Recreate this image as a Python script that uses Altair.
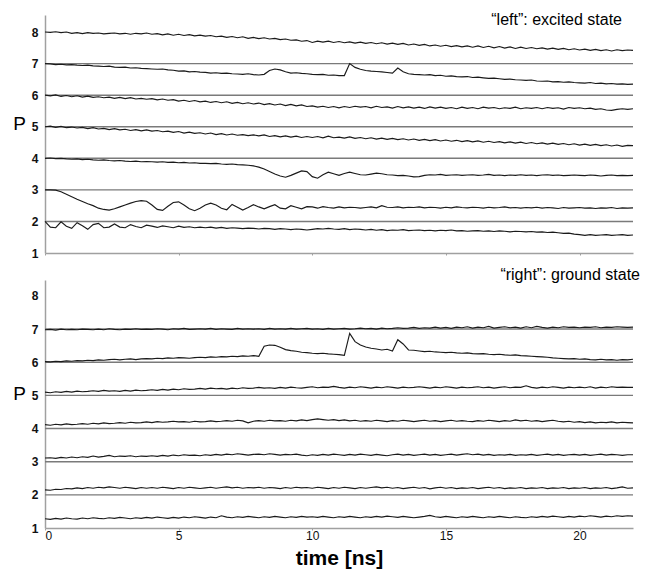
import altair as alt
import pandas as pd

# ---------------- data ----------------
TIME = [round(0.2 * i, 1) for i in range(111)]   # sampling grid 0 .. 22 ns
X_TICKS = [0, 5, 10, 15, 20]
Y_TICKS = [1, 2, 3, 4, 5, 6, 7, 8]
REF_LEVELS = [2, 3, 4, 5, 6, 7]
TOP_TITLE = "\u201cleft\u201d: excited state"
BOTTOM_TITLE = "\u201cright\u201d: ground state"
X_TITLE = "time [ns]"
Y_TITLE = "P"

# upper panel ("left": excited state)
TOP_8 = [8.00, 7.99, 8.01, 7.98, 8.00, 7.96, 7.98, 7.95, 7.98, 7.96,
         7.97, 7.94, 7.96, 7.97, 7.94, 7.96, 7.93, 7.96, 7.94, 7.97,
         7.93, 7.95, 7.91, 7.94, 7.90, 7.93, 7.89, 7.92, 7.88, 7.90,
         7.87, 7.89, 7.85, 7.87, 7.83, 7.86, 7.82, 7.85, 7.80, 7.83,
         7.79, 7.82, 7.78, 7.80, 7.76, 7.78, 7.74, 7.75, 7.71, 7.73,
         7.67, 7.71, 7.68, 7.71, 7.67, 7.70, 7.66, 7.69, 7.65, 7.68,
         7.64, 7.67, 7.63, 7.66, 7.62, 7.65, 7.61, 7.64, 7.59, 7.62,
         7.58, 7.61, 7.56, 7.59, 7.55, 7.58, 7.54, 7.57, 7.53, 7.56,
         7.52, 7.56, 7.51, 7.55, 7.50, 7.54, 7.49, 7.53, 7.48, 7.52,
         7.48, 7.51, 7.47, 7.50, 7.46, 7.49, 7.45, 7.48, 7.44, 7.47,
         7.43, 7.46, 7.42, 7.45, 7.41, 7.44, 7.40, 7.44, 7.41, 7.43,
         7.42]
TOP_7 = [7.00, 6.99, 6.97, 6.98, 6.96, 6.97, 6.95, 6.94, 6.95, 6.93,
         6.92, 6.91, 6.92, 6.89, 6.88, 6.89, 6.86, 6.87, 6.85, 6.84,
         6.83, 6.82, 6.83, 6.80, 6.79, 6.76, 6.77, 6.74, 6.75, 6.73,
         6.72, 6.70, 6.71, 6.69, 6.70, 6.68, 6.67, 6.66, 6.68, 6.65,
         6.64, 6.66, 6.78, 6.83, 6.80, 6.74, 6.70, 6.71, 6.69, 6.68,
         6.66, 6.65, 6.66, 6.63, 6.64, 6.62, 6.62, 7.00, 6.88, 6.82,
         6.78, 6.76, 6.75, 6.74, 6.72, 6.70, 6.86, 6.74, 6.68, 6.66,
         6.65, 6.64, 6.65, 6.62, 6.63, 6.60, 6.61, 6.59, 6.58, 6.59,
         6.56, 6.57, 6.55, 6.53, 6.54, 6.52, 6.50, 6.51, 6.49, 6.48,
         6.47, 6.48, 6.45, 6.44, 6.45, 6.42, 6.43, 6.41, 6.42, 6.40,
         6.39, 6.38, 6.40, 6.37, 6.38, 6.36, 6.37, 6.35, 6.36, 6.34,
         6.35]
TOP_6 = [6.00, 5.98, 6.01, 5.96, 5.99, 5.95, 5.98, 5.94, 5.97, 5.93,
         5.95, 5.92, 5.94, 5.90, 5.93, 5.89, 5.92, 5.88, 5.90, 5.87,
         5.89, 5.85, 5.88, 5.84, 5.86, 5.81, 5.84, 5.80, 5.83, 5.79,
         5.81, 5.77, 5.80, 5.76, 5.79, 5.74, 5.77, 5.73, 5.76, 5.72,
         5.75, 5.70, 5.73, 5.69, 5.72, 5.67, 5.71, 5.66, 5.69, 5.64,
         5.66, 5.62, 5.65, 5.61, 5.64, 5.60, 5.64, 5.61, 5.65, 5.62,
         5.64, 5.60, 5.65, 5.61, 5.63, 5.59, 5.64, 5.60, 5.63, 5.59,
         5.62, 5.58, 5.63, 5.59, 5.62, 5.58, 5.61, 5.57, 5.62, 5.58,
         5.61, 5.57, 5.62, 5.59, 5.61, 5.57, 5.60, 5.58, 5.62, 5.57,
         5.60, 5.58, 5.61, 5.57, 5.61, 5.58, 5.60, 5.56, 5.61, 5.58,
         5.60, 5.57, 5.59, 5.55, 5.57, 5.53, 5.52, 5.55, 5.57, 5.55,
         5.57]
TOP_5 = [5.00, 5.02, 4.98, 5.01, 4.97, 4.99, 4.96, 4.98, 4.94, 4.97,
         4.93, 4.95, 4.91, 4.94, 4.90, 4.92, 4.88, 4.91, 4.87, 4.90,
         4.86, 4.88, 4.84, 4.86, 4.82, 4.85, 4.80, 4.83, 4.79, 4.81,
         4.77, 4.80, 4.75, 4.78, 4.74, 4.77, 4.73, 4.75, 4.72, 4.74,
         4.71, 4.74, 4.69, 4.72, 4.68, 4.71, 4.67, 4.70, 4.66, 4.69,
         4.66, 4.69, 4.65, 4.70, 4.65, 4.67, 4.64, 4.68, 4.63, 4.66,
         4.62, 4.65, 4.61, 4.64, 4.60, 4.63, 4.59, 4.62, 4.58, 4.61,
         4.57, 4.60, 4.56, 4.59, 4.55, 4.58, 4.54, 4.57, 4.53, 4.56,
         4.52, 4.55, 4.51, 4.54, 4.50, 4.53, 4.49, 4.52, 4.48, 4.51,
         4.47, 4.50, 4.46, 4.49, 4.45, 4.48, 4.44, 4.47, 4.43, 4.46,
         4.42, 4.45, 4.41, 4.44, 4.40, 4.43, 4.39, 4.42, 4.38, 4.41,
         4.40]
TOP_4 = [4.00, 4.01, 3.99, 4.00, 3.98, 3.97, 3.98, 3.96, 3.97, 3.95,
         3.94, 3.95, 3.93, 3.92, 3.93, 3.91, 3.90, 3.91, 3.89, 3.90,
         3.89, 3.88, 3.89, 3.87, 3.88, 3.86, 3.87, 3.85, 3.86, 3.84,
         3.84, 3.83, 3.84, 3.82, 3.81, 3.82, 3.80, 3.79, 3.78, 3.76,
         3.72, 3.66, 3.58, 3.50, 3.44, 3.40, 3.46, 3.53, 3.60, 3.58,
         3.42, 3.37, 3.48, 3.56, 3.51, 3.46, 3.52, 3.56, 3.52, 3.48,
         3.47, 3.50, 3.53, 3.51, 3.48, 3.47, 3.45, 3.46, 3.44, 3.41,
         3.42, 3.46, 3.48, 3.47, 3.49, 3.46, 3.47, 3.48, 3.46, 3.47,
         3.48, 3.46, 3.47, 3.49, 3.46, 3.47, 3.45, 3.47, 3.46, 3.48,
         3.46, 3.47, 3.45, 3.47, 3.48, 3.46, 3.47, 3.45, 3.46, 3.47,
         3.46, 3.45, 3.47, 3.46, 3.44, 3.46, 3.47, 3.45, 3.46, 3.45,
         3.46]
TOP_3 = [3.00, 3.00, 2.99, 2.94, 2.86, 2.78, 2.70, 2.63, 2.56, 2.50,
         2.42, 2.38, 2.36, 2.40, 2.46, 2.52, 2.58, 2.63, 2.66, 2.64,
         2.52, 2.38, 2.35, 2.48, 2.60, 2.62, 2.52, 2.40, 2.34, 2.42,
         2.52, 2.58, 2.52, 2.42, 2.37, 2.54, 2.45, 2.36, 2.44, 2.53,
         2.46, 2.40, 2.47, 2.53, 2.42, 2.40, 2.50, 2.45, 2.40, 2.47,
         2.46, 2.42, 2.47, 2.44, 2.42, 2.46, 2.43, 2.45, 2.44, 2.42,
         2.44, 2.46, 2.43, 2.50, 2.45, 2.44, 2.46, 2.43, 2.45, 2.44,
         2.46, 2.43, 2.45, 2.44, 2.42, 2.45, 2.43, 2.46, 2.44, 2.43,
         2.45, 2.44, 2.42, 2.45, 2.43, 2.44, 2.46, 2.43, 2.44, 2.42,
         2.44, 2.43, 2.45, 2.42, 2.44, 2.43, 2.41, 2.44, 2.42, 2.43,
         2.44, 2.42, 2.43, 2.41, 2.43, 2.42, 2.44, 2.41, 2.43, 2.42,
         2.43]
TOP_2 = [2.00, 1.82, 1.80, 1.99, 1.85, 1.78, 1.96, 1.86, 1.75, 1.90,
         1.94, 1.80, 1.82, 1.92, 1.82, 1.80, 1.90, 1.84, 1.80, 1.88,
         1.85, 1.81, 1.86, 1.83, 1.80, 1.85, 1.81, 1.83, 1.80, 1.82,
         1.80, 1.82, 1.79, 1.81, 1.78, 1.80, 1.79, 1.77, 1.79, 1.78,
         1.76, 1.78, 1.77, 1.75, 1.77, 1.76, 1.74, 1.76, 1.75, 1.73,
         1.75, 1.77, 1.76, 1.78, 1.76, 1.75, 1.77, 1.74, 1.76, 1.75,
         1.73, 1.75, 1.72, 1.74, 1.71, 1.73, 1.72, 1.74, 1.71, 1.72,
         1.73, 1.71, 1.72, 1.70, 1.72, 1.71, 1.73, 1.70, 1.71, 1.69,
         1.70, 1.71, 1.69, 1.70, 1.68, 1.70, 1.69, 1.67, 1.69, 1.68,
         1.67, 1.68, 1.66, 1.67, 1.65, 1.66, 1.64, 1.62, 1.63, 1.60,
         1.58, 1.56, 1.58, 1.56, 1.57, 1.58, 1.56, 1.57, 1.58, 1.56,
         1.57]

# lower panel ("right": ground state)
BOT_7 = [6.98, 6.99, 6.97, 7.00, 6.98, 6.99, 6.98, 7.00, 6.99, 6.98,
         7.00, 6.98, 7.01, 6.99, 6.98, 7.00, 6.99, 7.01, 6.99, 7.00,
         6.99, 7.01, 7.00, 6.98, 7.01, 7.00, 7.02, 6.99, 7.00, 7.01,
         7.00, 7.02, 6.99, 7.01, 7.00, 6.99, 7.02, 7.00, 7.01, 7.00,
         7.01, 6.99, 7.02, 7.00, 7.01, 7.00, 7.02, 7.00, 7.01, 7.02,
         7.00, 7.01, 6.99, 7.02, 7.00, 7.01, 7.02, 7.00, 7.01, 7.03,
         7.01, 7.02, 7.00, 7.03, 7.01, 7.02, 7.04, 7.02, 7.03, 7.05,
         7.02, 7.04, 7.03, 7.06, 7.03, 7.05, 7.02, 7.06, 7.04, 7.07,
         7.03, 7.06, 7.04, 7.08, 7.03, 7.05, 7.07, 7.04, 7.06, 7.03,
         7.07, 7.04, 7.08, 7.05, 7.03, 7.06, 7.04, 7.07, 7.05, 7.06,
         7.04, 7.06, 7.05, 7.07, 7.04, 7.06, 7.05, 7.07, 7.06, 7.05,
         7.06]
BOT_6 = [6.02, 6.01, 6.03, 6.02, 6.04, 6.03, 6.05, 6.04, 6.06, 6.05,
         6.07, 6.06, 6.08, 6.09, 6.07, 6.09, 6.10, 6.08, 6.10, 6.11,
         6.10, 6.12, 6.11, 6.13, 6.12, 6.14, 6.13, 6.12, 6.14, 6.15,
         6.14, 6.16, 6.15, 6.17, 6.16, 6.18, 6.17, 6.19, 6.18, 6.20,
         6.18, 6.48, 6.52, 6.51, 6.45, 6.38, 6.35, 6.33, 6.30, 6.29,
         6.27, 6.26, 6.27, 6.25, 6.24, 6.23, 6.21, 6.87, 6.62, 6.52,
         6.46, 6.42, 6.40, 6.37, 6.39, 6.34, 6.68, 6.55, 6.37, 6.36,
         6.34, 6.32, 6.33, 6.31, 6.30, 6.29, 6.30, 6.28, 6.27, 6.28,
         6.26, 6.25, 6.26, 6.24, 6.23, 6.24, 6.22, 6.21, 6.22, 6.20,
         6.19, 6.18, 6.17, 6.16, 6.15, 6.13, 6.12, 6.11, 6.10, 6.11,
         6.09, 6.10, 6.08, 6.07, 6.09, 6.07, 6.08, 6.06, 6.08, 6.07,
         6.09]
BOT_5 = [5.10, 5.08, 5.11, 5.09, 5.12, 5.10, 5.13, 5.11, 5.12, 5.14,
         5.12, 5.15, 5.13, 5.14, 5.12, 5.15, 5.13, 5.16, 5.14, 5.15,
         5.17, 5.15, 5.18, 5.16, 5.19, 5.17, 5.20, 5.18, 5.19, 5.21,
         5.19, 5.22, 5.20, 5.21, 5.19, 5.22, 5.20, 5.23, 5.21, 5.22,
         5.24, 5.22, 5.23, 5.21, 5.24, 5.22, 5.25, 5.23, 5.22, 5.24,
         5.26, 5.23, 5.25, 5.24, 5.27, 5.24, 5.22, 5.25, 5.23, 5.26,
         5.24, 5.22, 5.25, 5.23, 5.26, 5.24, 5.22, 5.25, 5.23, 5.24,
         5.26, 5.24, 5.22, 5.25, 5.23, 5.26, 5.24, 5.22, 5.25, 5.23,
         5.24, 5.26, 5.23, 5.25, 5.22, 5.24, 5.26, 5.23, 5.25, 5.24,
         5.29, 5.24, 5.22, 5.25, 5.23, 5.26, 5.24, 5.22, 5.25, 5.23,
         5.25, 5.23, 5.26, 5.22, 5.25, 5.23, 5.26, 5.24, 5.25, 5.24,
         5.24]
BOT_4 = [4.12, 4.10, 4.13, 4.11, 4.14, 4.12, 4.13, 4.15, 4.13, 4.16,
         4.14, 4.17, 4.15, 4.16, 4.18, 4.16, 4.19, 4.17, 4.18, 4.20,
         4.18, 4.21, 4.19, 4.20, 4.22, 4.20, 4.21, 4.19, 4.22, 4.20,
         4.21, 4.23, 4.21, 4.22, 4.24, 4.22, 4.25, 4.23, 4.17, 4.22,
         4.24, 4.22, 4.25, 4.23, 4.24, 4.22, 4.25, 4.23, 4.26, 4.24,
         4.27, 4.29, 4.27, 4.25, 4.27, 4.24, 4.26, 4.23, 4.25, 4.22,
         4.24, 4.22, 4.25, 4.23, 4.21, 4.24, 4.22, 4.25, 4.23, 4.21,
         4.23, 4.25, 4.22, 4.24, 4.21, 4.23, 4.25, 4.22, 4.24, 4.22,
         4.21, 4.24, 4.22, 4.25, 4.23, 4.21, 4.24, 4.22, 4.26, 4.23,
         4.25, 4.22, 4.24, 4.21, 4.23, 4.25, 4.22, 4.20, 4.22, 4.19,
         4.21, 4.18, 4.20, 4.17, 4.19, 4.18, 4.20, 4.17, 4.19, 4.18,
         4.17]
BOT_3 = [3.11, 3.12, 3.10, 3.13, 3.11, 3.14, 3.12, 3.15, 3.13, 3.17,
         3.14, 3.16, 3.19, 3.15, 3.17, 3.16, 3.18, 3.15, 3.17, 3.16,
         3.18, 3.16, 3.19, 3.17, 3.20, 3.18, 3.21, 3.19, 3.20, 3.18,
         3.21, 3.19, 3.22, 3.20, 3.23, 3.21, 3.24, 3.22, 3.20, 3.22,
         3.23, 3.21, 3.24, 3.22, 3.20, 3.22, 3.21, 3.23, 3.20, 3.18,
         3.21, 3.19, 3.22, 3.20, 3.23, 3.21, 3.19, 3.22, 3.20, 3.23,
         3.21, 3.19, 3.22, 3.20, 3.18, 3.21, 3.23, 3.20, 3.22, 3.19,
         3.21, 3.23, 3.20, 3.22, 3.19, 3.21, 3.23, 3.20, 3.22, 3.24,
         3.21, 3.23, 3.20, 3.22, 3.19, 3.21, 3.20, 3.22, 3.19, 3.21,
         3.20, 3.22, 3.19, 3.21, 3.23, 3.20, 3.22, 3.19, 3.21, 3.22,
         3.20, 3.22, 3.19, 3.21, 3.23, 3.20, 3.22, 3.21, 3.19, 3.21,
         3.21]
BOT_2 = [2.15, 2.14, 2.17, 2.16, 2.19, 2.18, 2.21, 2.19, 2.22, 2.20,
         2.23, 2.21, 2.24, 2.22, 2.20, 2.23, 2.21, 2.19, 2.22, 2.20,
         2.22, 2.20, 2.23, 2.21, 2.19, 2.22, 2.20, 2.23, 2.21, 2.19,
         2.21, 2.23, 2.20, 2.22, 2.24, 2.21, 2.23, 2.20, 2.22, 2.21,
         2.23, 2.20, 2.22, 2.21, 2.19, 2.22, 2.20, 2.23, 2.21, 2.22,
         2.20, 2.23, 2.21, 2.19, 2.22, 2.20, 2.23, 2.21, 2.19, 2.22,
         2.20, 2.22, 2.24, 2.21, 2.23, 2.20, 2.22, 2.19, 2.21, 2.23,
         2.20, 2.22, 2.18, 2.21, 2.23, 2.20, 2.22, 2.19, 2.21, 2.20,
         2.22, 2.19, 2.21, 2.23, 2.20, 2.22, 2.19, 2.21, 2.20, 2.22,
         2.19, 2.21, 2.20, 2.22, 2.19, 2.21, 2.20, 2.22, 2.19, 2.21,
         2.20, 2.22, 2.19, 2.21, 2.20, 2.22, 2.19, 2.21, 2.24, 2.20,
         2.21]
BOT_1 = [1.28, 1.26, 1.29, 1.27, 1.30, 1.28, 1.27, 1.30, 1.28, 1.31,
         1.29, 1.28, 1.31, 1.29, 1.32, 1.30, 1.28, 1.31, 1.29, 1.32,
         1.30, 1.33, 1.31, 1.29, 1.32, 1.30, 1.33, 1.31, 1.34, 1.32,
         1.30, 1.33, 1.31, 1.37, 1.33, 1.31, 1.34, 1.32, 1.35, 1.33,
         1.31, 1.34, 1.32, 1.35, 1.33, 1.31, 1.34, 1.32, 1.35, 1.33,
         1.34, 1.32, 1.35, 1.33, 1.31, 1.34, 1.32, 1.35, 1.33, 1.31,
         1.34, 1.32, 1.35, 1.33, 1.36, 1.34, 1.32, 1.35, 1.33, 1.31,
         1.33, 1.35, 1.38, 1.34, 1.32, 1.35, 1.33, 1.31, 1.34, 1.32,
         1.35, 1.33, 1.31, 1.34, 1.32, 1.35, 1.33, 1.31, 1.34, 1.32,
         1.31, 1.34, 1.32, 1.35, 1.33, 1.36, 1.34, 1.32, 1.35, 1.33,
         1.36, 1.34, 1.37, 1.35, 1.33, 1.36, 1.34, 1.37, 1.35, 1.37,
         1.36]

TOP_SERIES = {"s8": TOP_8, "s7": TOP_7, "s6": TOP_6, "s5": TOP_5,
              "s4": TOP_4, "s3": TOP_3, "s2": TOP_2}
BOT_SERIES = {"s7": BOT_7, "s6": BOT_6, "s5": BOT_5, "s4": BOT_4,
              "s3": BOT_3, "s2": BOT_2, "s1": BOT_1}


def long_frame(series):
    rows = []
    for name, vals in series.items():
        assert len(vals) == len(TIME), (name, len(vals))
        for t, p in zip(TIME, vals):
            rows.append({"t": t, "p": p, "series": name})
    return pd.DataFrame(rows)


top_df = long_frame(TOP_SERIES)
bot_df = long_frame(BOT_SERIES)
ref_df = pd.DataFrame({"p": REF_LEVELS})

FONT = "Liberation Sans"
AXIS_GRAY = "#a0a0a0"
REF_GRAY = "#7a7a7a"
TRACE = "#1a1a1a"
PLOT_W = 588


def panel(df, ymax, height, title_text, title_dx, title_dy, p_y, bottom):
    x_axis = alt.Axis(
        values=X_TICKS, grid=False, domainColor=AXIS_GRAY, domainWidth=1.5,
        tickColor=AXIS_GRAY, tickSize=2, labels=bottom, labelFont=FONT,
        labelFontSize=12, labelColor="#111111", labelPadding=0,
        title=X_TITLE if bottom else None,
        titleFont=FONT, titleFontSize=21, titleFontWeight="bold",
        titleColor="#000000", titleY=30, titleBaseline="middle",
    )
    y_axis = alt.Axis(
        values=Y_TICKS, grid=False, domainColor=AXIS_GRAY, domainWidth=1.5,
        ticks=False, labelPadding=7, labelFont=FONT, labelFontSize=12,
        labelFontWeight="bold", labelColor="#111111",
        title=Y_TITLE, titleAngle=0, titleFont=FONT, titleFontSize=19,
        titleFontWeight="normal", titleColor="#000000", titleX=-26,
        titleY=p_y, titleAlign="center", titleBaseline="middle",
    )
    x = alt.X("t:Q", scale=alt.Scale(domain=[0, 22], nice=False, zero=False),
              axis=x_axis)
    y = alt.Y("p:Q", scale=alt.Scale(domain=[1, ymax], nice=False, zero=False),
              axis=y_axis)
    rules = alt.Chart(ref_df).mark_rule(color=REF_GRAY, strokeWidth=1.4).encode(y=y)
    lines = alt.Chart(df).mark_line(color=TRACE, strokeWidth=1.15).encode(
        x=x, y=y, detail="series:N", order="t:Q")
    return alt.layer(rules, lines).properties(
        width=PLOT_W, height=height,
        title=alt.TitleParams(
            text=title_text, anchor="end", orient="top", frame="group",
            offset=0, dx=title_dx, dy=title_dy, baseline="alphabetic",
            font=FONT, fontSize=16, fontWeight="normal", color="#000000"),
    )


top = panel(top_df, 8.54, 238, TOP_TITLE, -11, 26, 108, False)
bottom = panel(bot_df, 8.48, 248, BOTTOM_TITLE, 7, 16, 113, True)

chart = alt.vconcat(top, bottom, spacing=27, bounds="flush").properties(
    padding={"left": 12, "top": 12, "right": 24, "bottom": 3},
    background="white",
).configure_view(stroke=None)

chart.save("out.html", embed_options={"renderer": "svg", "actions": False})
